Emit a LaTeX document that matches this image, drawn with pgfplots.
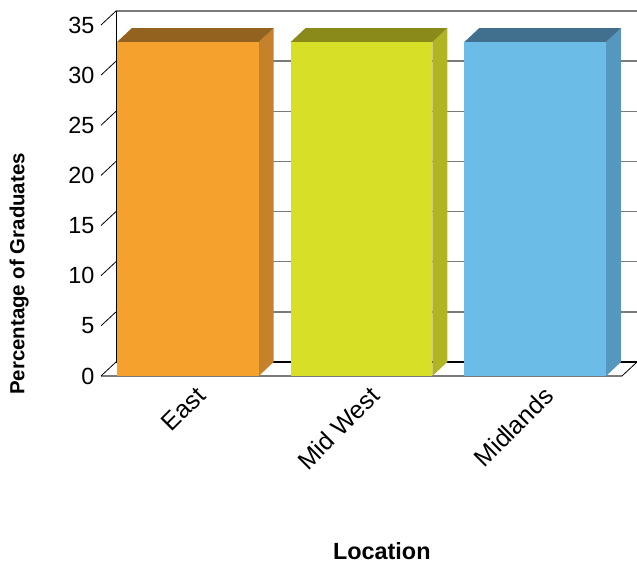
\documentclass[border=0pt]{standalone}
\usepackage{fontspec}
\setmainfont{Liberation Sans}
\usepackage{pgfplots}
\pgfplotsset{compat=1.18}
\definecolor{eastF}{HTML}{F4A22D}
\definecolor{eastT}{HTML}{93621E}
\definecolor{eastS}{HTML}{C5822A}
\definecolor{mwF}{HTML}{D8DF27}
\definecolor{mwT}{HTML}{8A8A1A}
\definecolor{mwS}{HTML}{B2B523}
\definecolor{mlF}{HTML}{6BBDE8}
\definecolor{mlT}{HTML}{41708E}
\definecolor{mlS}{HTML}{5597BF}
\definecolor{gridgray}{HTML}{7A7A7A}
\begin{document}
\begin{tikzpicture}
\useasboundingbox (0,0) rectangle (637bp,564bp);
% back wall
\begin{axis}[
  at={(116bp,202bp)}, anchor=south west,
  scale only axis, width=521bp, height=351bp,
  xmin=-0.5, xmax=2.5, ymin=0, ymax=35,
  xtick=\empty, ytick={0,5,...,35}, yticklabels={},
  major tick length=0pt,
  axis line style={draw=none},
  ymajorgrids, grid style={gridgray, line width=1.4bp},
  clip=false,
]
\draw[black, line width=0.8bp] (axis cs:-0.5,0) -- (axis cs:-0.5,35);
\draw[black, line width=1.6bp] (axis cs:-0.5,0) -- (axis cs:2.5,0);
\end{axis}
% front
\begin{axis}[
  at={(101bp,188bp)}, anchor=south west,
  scale only axis, width=521bp, height=351bp,
  xmin=-0.5, xmax=2.5, ymin=0, ymax=35,
  xtick={0,1,2}, xticklabels={East,Mid West,Midlands},
  ytick={0,5,...,35},
  major tick length=0pt,
  axis line style={draw=none},
  /pgf/number format/assume math mode=true,
  tick label style={font=\fontsize{23.5}{27}\selectfont},
  yticklabel style={xshift=-3bp},
  xticklabel style={rotate=45, anchor=north east, xshift=2bp, yshift=-8bp, font=\fontsize{25}{29}\selectfont},
  ylabel={Percentage of Graduates},
  ylabel style={at={(axis description cs:-0.157,0.2906)}, anchor=center, font=\bfseries\fontsize{20.5}{24}\selectfont},
  xlabel={Location},
  xlabel style={at={(axis description cs:0.539,-0.499)}, anchor=center, font=\bfseries\fontsize{23.5}{27}\selectfont},
  clip=false,
]
% floor and depth ticks
\draw[gridgray, line width=1.4bp] (axis cs:-0.5,0) -- (axis cs:2.5,0);
\draw[black, line width=0.8bp] (axis cs:2.5,0) -- (axis cs:2.5864,1.396);
\pgfplotsinvokeforeach{0,5,...,35}{
  \draw[black, line width=0.8bp] (axis cs:-0.5,#1) -- (axis cs:-0.4136,#1+1.396);
}
% East
\addplot[fill=eastS, draw=none] coordinates {(0.408,0) (0.494,1.396) (0.494,34.696) (0.408,33.3) (0.408,0)};
\addplot[fill=eastT, draw=none] coordinates {(-0.408,33.3) (-0.322,34.696) (0.494,34.696) (0.408,33.3) (-0.408,33.3)};
\addplot[ybar, bar width=0.816, fill=eastF, draw=none] coordinates {(0,33.3)};
% Mid West
\addplot[fill=mwS, draw=none] coordinates {(1.408,0) (1.494,1.396) (1.494,34.696) (1.408,33.3) (1.408,0)};
\addplot[fill=mwT, draw=none] coordinates {(0.592,33.3) (0.678,34.696) (1.494,34.696) (1.408,33.3) (0.592,33.3)};
\addplot[ybar, bar width=0.816, fill=mwF, draw=none] coordinates {(1,33.3)};
% Midlands
\addplot[fill=mlS, draw=none] coordinates {(2.408,0) (2.494,1.396) (2.494,34.696) (2.408,33.3) (2.408,0)};
\addplot[fill=mlT, draw=none] coordinates {(1.592,33.3) (1.678,34.696) (2.494,34.696) (2.408,33.3) (1.592,33.3)};
\addplot[ybar, bar width=0.816, fill=mlF, draw=none] coordinates {(2,33.3)};
\end{axis}
\end{tikzpicture}
\end{document}
